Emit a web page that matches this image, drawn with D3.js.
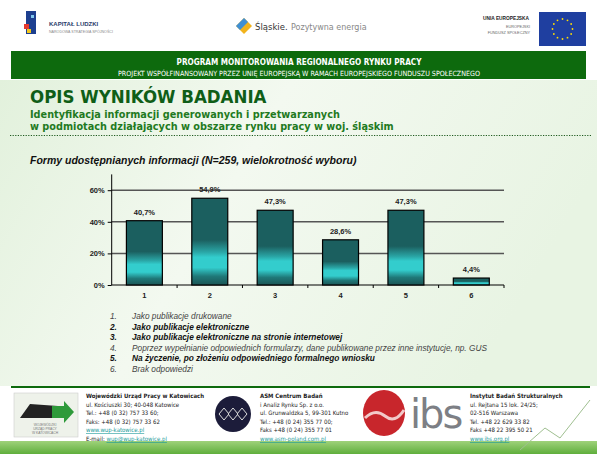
<!DOCTYPE html>
<html>
<head>
<meta charset="utf-8">
<script src="https://cdn.jsdelivr.net/npm/d3@7"></script>
<style>
  body { margin: 0; background: #fff; }
  svg { display: block; }
</style>
</head>
<body>
<div id="slide"></div>
<script>
// --- Data ---
const categories = ["1", "2", "3", "4", "5", "6"];
const values = [40.7, 54.9, 47.3, 28.6, 47.3, 4.4];
const valueLabels = ["40,7%", "54,9%", "47,3%", "28,6%", "47,3%", "4,4%"];
const yTicks = [0, 20, 40, 60];
const legendItems = [
    { n: "1.", text: "Jako publikacje drukowane", bold: false },
    { n: "2.", text: "Jako publikacje elektroniczne", bold: true },
    { n: "3.", text: "Jako publikacje elektroniczne na stronie internetowej", bold: true },
    { n: "4.", text: "Poprzez wypełnianie odpowiednich formularzy, dane publikowane przez inne instytucje, np. GUS", bold: false },
    { n: "5.", text: "Na życzenie, po złożeniu odpowiedniego formalnego wniosku", bold: true },
    { n: "6.", text: "Brak odpowiedzi", bold: false }
];
const footerWup = ["Wojewódzki Urząd Pracy w Katowicach", "ul. Kościuszki 30; 40-048 Katowice",
    "Tel.: +48 (0 32) 757 33 60;", "Faks: +48 (0 32) 757 33 62", "www.wup-katowice.pl", "E-mail: wup@wup-katowice.pl"];
const footerAsm = ["ASM Centrum Badań", "i Analiz Rynku Sp. z o.o.", "ul. Grunwaldzka 5, 99-301 Kutno",
    "Tel.: +48 (0 24) 355 77 00;", "Faks +48 (0 24) 355 77 01", "www.asm-poland.com.pl"];
const footerIbs = ["Instytut Badań Strukturalnych", "ul. Rejtana 15 lok. 24/25;", "02-516 Warszawa",
    "Tel. +48 22 629 33 82", "Faks +48 22 395 50 21", "www.ibs.org.pl"];

const W = 597, H = 454;
const svg = d3.select("#slide").append("svg").attr("width", W).attr("height", H);
const defs = svg.append("defs");

// background gradients
const bg = defs.append("linearGradient").attr("id", "bg").attr("x1", 0).attr("y1", 0).attr("x2", 1).attr("y2", 0.3);
bg.append("stop").attr("offset", "0%").attr("stop-color", "#e2f1dc");
bg.append("stop").attr("offset", "45%").attr("stop-color", "#f3f9f0");
bg.append("stop").attr("offset", "100%").attr("stop-color", "#e8f4e3");

const barGrad = defs.append("linearGradient").attr("id", "barGrad").attr("x1", 0).attr("y1", 0).attr("x2", 0).attr("y2", 1);
[["0%", "#1b5f5f"], ["48%", "#1b5f5f"], ["62%", "#2aa6a6"], ["68%", "#33cdcd"], ["80%", "#33cdcd"], ["90%", "#1f7878"], ["100%", "#1b5555"]]
    .forEach(s => barGrad.append("stop").attr("offset", s[0]).attr("stop-color", s[1]));

const footGrad = defs.append("linearGradient").attr("id", "footGrad").attr("x1", 0).attr("y1", 0).attr("x2", 0).attr("y2", 1);
footGrad.append("stop").attr("offset", "0%").attr("stop-color", "#9fd27a");
footGrad.append("stop").attr("offset", "100%").attr("stop-color", "#5fae3c");

svg.append("rect").attr("x", 0).attr("y", 0).attr("width", W).attr("height", H).attr("fill", "#fff");
svg.append("rect").attr("x", 0).attr("y", 80).attr("width", W).attr("height", 306).attr("fill", "url(#bg)");

// --- Header logos ---
const logos = svg.append("g");
logos.append("rect").attr("x", 26).attr("y", 11).attr("width", 10).attr("height", 23).attr("fill", "#1d3f8f");
logos.append("rect").attr("x", 24).attr("y", 24).attr("width", 5).attr("height", 5).attr("fill", "#e53a2f");
logos.append("rect").attr("x", 27).attr("y", 29).attr("width", 4).attr("height", 4).attr("fill", "#f4c81c");
logos.append("rect").attr("x", 31).attr("y", 15).attr("width", 3).attr("height", 3).attr("fill", "#7fc8ee");
logos.append("text").attr("x", 49).attr("y", 26).attr("font-family", "Liberation Sans, Arial").attr("font-size", 6)
    .attr("font-weight", "bold").attr("fill", "#2a3a6a").text("KAPITAŁ LUDZKI");
logos.append("text").attr("x", 49).attr("y", 33).attr("font-family", "Liberation Sans, Arial").attr("font-size", 3.6)
    .attr("fill", "#888").text("NARODOWA STRATEGIA SPÓJNOŚCI");

logos.append("path").attr("d", "M236,26 L244,18 L252,26 L244,34 Z").attr("fill", "#f2b31c");
logos.append("path").attr("d", "M236,26 L244,18 L248,22 L240,30 Z").attr("fill", "#3f8fd4");
logos.append("text").attr("x", 255).attr("y", 30).attr("font-family", "DejaVu Sans, Arial").attr("font-size", 8.5)
    .attr("fill", "#333").text("Śląskie.");
logos.append("text").attr("x", 291).attr("y", 30).attr("font-family", "DejaVu Sans, Arial").attr("font-size", 8)
    .attr("fill", "#888").text("Pozytywna energia");

logos.append("text").attr("x", 483).attr("y", 20).attr("font-family", "Liberation Sans, Arial").attr("font-size", 4.8)
    .attr("font-weight", "bold").attr("fill", "#222").text("UNIA EUROPEJSKA");
logos.append("text").attr("x", 530).attr("y", 28).attr("text-anchor", "end").attr("font-family", "Liberation Sans, Arial")
    .attr("font-size", 3.8).attr("fill", "#666").text("EUROPEJSKI");
logos.append("text").attr("x", 530).attr("y", 34).attr("text-anchor", "end").attr("font-family", "Liberation Sans, Arial")
    .attr("font-size", 3.8).attr("fill", "#666").text("FUNDUSZ SPOŁECZNY");
logos.append("rect").attr("x", 539).attr("y", 12).attr("width", 47).attr("height", 34).attr("fill", "#1f3fa0");
d3.range(12).forEach(i => {
    const a = i / 12 * Math.PI * 2;
    logos.append("circle").attr("cx", 562.5 + Math.cos(a) * 10).attr("cy", 29 + Math.sin(a) * 10).attr("r", 0.9).attr("fill", "#ffdd00");
});

// --- Green title band ---
svg.append("rect").attr("x", 11).attr("y", 51).attr("width", 575).attr("height", 28).attr("fill", "#0d6a0d");
svg.append("text").attr("x", 299).attr("y", 65).attr("text-anchor", "middle").attr("font-family", "DejaVu Sans Condensed, DejaVu Sans")
    .attr("font-size", 8.1).attr("font-weight", "bold").attr("fill", "#fff").text("PROGRAM MONITOROWANIA REGIONALNEGO RYNKU PRACY");
svg.append("text").attr("x", 299).attr("y", 75.5).attr("text-anchor", "middle").attr("font-family", "DejaVu Sans Condensed, DejaVu Sans")
    .attr("font-size", 7.1).attr("fill", "#fff").text("PROJEKT WSPÓŁFINANSOWANY PRZEZ UNIĘ EUROPEJSKĄ W RAMACH EUROPEJSKIEGO FUNDUSZU SPOŁECZNEGO");

svg.append("text").attr("x", 30).attr("y", 103).attr("font-family", "DejaVu Sans Condensed, DejaVu Sans")
    .attr("font-size", 18.5).attr("font-weight", "bold").attr("fill", "#0f5e17").text("OPIS WYNIKÓW BADANIA");
svg.append("text").attr("x", 30).attr("y", 118).attr("font-family", "DejaVu Sans Condensed, DejaVu Sans")
    .attr("font-size", 10.8).attr("font-weight", "bold").attr("fill", "#1f7a22").text("Identyfikacja informacji generowanych i przetwarzanych");
svg.append("text").attr("x", 30).attr("y", 130).attr("font-family", "DejaVu Sans Condensed, DejaVu Sans")
    .attr("font-size", 10.8).attr("font-weight", "bold").attr("fill", "#1f7a22").text("w podmiotach działających w obszarze rynku pracy w woj. śląskim");
svg.append("line").attr("x1", 10).attr("x2", 591).attr("y1", 135.5).attr("y2", 135.5)
    .attr("stroke", "#1f5a1f").attr("stroke-width", 1.2).attr("stroke-dasharray", "1.2,1.4");

// --- Chart ---
svg.append("text").attr("x", 30).attr("y", 164).attr("font-family", "Liberation Sans, Arial")
    .attr("font-size", 10.5).attr("font-weight", "bold").attr("font-style", "italic").attr("fill", "#111")
    .text("Formy udostępnianych informacji (N=259, wielokrotność wyboru)");

const x0 = 111.7, x1 = 504, yBase = 285, yTop = 174.4;
const xScale = d3.scaleBand().domain(categories).range([x0, x1]).paddingInner(0.45).paddingOuter(0.225);
const xTick = d3.scaleBand().domain(categories).range([x0, x1]);
const yScale = d3.scaleLinear().domain([0, 70]).range([yBase, yTop]);

const chart = svg.append("g");
// gridlines
chart.selectAll(".grid").data(yTicks.filter(t => t > 0)).join("line")
    .attr("x1", x0).attr("x2", x1).attr("y1", d => yScale(d)).attr("y2", d => yScale(d))
    .attr("stroke", "#555").attr("stroke-width", 1.5);

const yAxis = chart.append("g").attr("transform", `translate(${x0},0)`)
    .call(d3.axisLeft(yScale).tickValues(yTicks).tickFormat(d => d + "%").tickSize(4).tickPadding(3));
yAxis.select(".domain").attr("d", `M0,${yTop}V${yBase}`).attr("stroke", "#000");
yAxis.selectAll("text").attr("font-family", "Liberation Sans, Arial").attr("font-size", 7.5).attr("font-weight", "bold").attr("fill", "#222");

const xAxis = chart.append("g").attr("transform", `translate(0,${yBase})`)
    .call(d3.axisBottom(xTick).tickSize(0).tickPadding(8));
xAxis.select(".domain").attr("d", `M${x0},0H${x1}`).attr("stroke", "#000");
xAxis.selectAll("text").attr("font-family", "Liberation Sans, Arial").attr("font-size", 7.5).attr("font-weight", "bold").attr("fill", "#222");
// separators between categories
chart.selectAll(".sep").data(categories).join("line")
    .attr("x1", d => xTick(d) + xTick.bandwidth()).attr("x2", d => xTick(d) + xTick.bandwidth())
    .attr("y1", yBase).attr("y2", yBase + 3).attr("stroke", "#000");

chart.selectAll(".bar").data(values).join("rect")
    .attr("x", (d, i) => xScale(categories[i])).attr("width", xScale.bandwidth())
    .attr("y", d => yScale(d)).attr("height", d => yBase - yScale(d))
    .attr("fill", "url(#barGrad)").attr("stroke", "#000").attr("stroke-width", 1.2);

chart.selectAll(".vlab").data(values).join("text")
    .attr("x", (d, i) => xScale(categories[i]) + xScale.bandwidth() / 2).attr("y", d => yScale(d) - 6)
    .attr("text-anchor", "middle").attr("font-family", "Liberation Sans, Arial").attr("font-size", 7.5)
    .attr("font-weight", "bold").attr("fill", "#222").text((d, i) => valueLabels[i]);

// --- Legend ---
const leg = svg.append("g").attr("font-family", "Liberation Sans, Arial").attr("font-size", 8.3).attr("font-style", "italic");
legendItems.forEach((it, i) => {
    const y = 319 + i * 10.6;
    const col = it.bold ? "#111" : "#444";
    leg.append("text").attr("x", 110).attr("y", y).attr("fill", col).attr("font-weight", it.bold ? "bold" : "normal").text(it.n);
    leg.append("text").attr("x", 132).attr("y", y).attr("fill", col).attr("font-weight", it.bold ? "bold" : "normal").text(it.text);
});

// --- Footer ---
svg.append("rect").attr("x", 0).attr("y", 386).attr("width", W).attr("height", 56).attr("fill", "#fff");
svg.append("line").attr("x1", 11).attr("x2", 590).attr("y1", 387).attr("y2", 387).attr("stroke", "#0d6a0d").attr("stroke-width", 1.8);
svg.append("rect").attr("x", 0).attr("y", 441).attr("width", W).attr("height", 13).attr("fill", "url(#footGrad)");

// WUP logo
svg.append("rect").attr("x", 14).attr("y", 393).attr("width", 64).attr("height", 44).attr("fill", "#eef2ea").attr("stroke", "#ccc").attr("stroke-width", 0.6);
svg.append("path").attr("d", "M20,418 L30,404 L58,406 L58,418 Z").attr("fill", "#222");
svg.append("path").attr("d", "M52,406 L64,406 L64,401 L74,412 L64,423 L64,418 L52,418 Z").attr("fill", "#2e9a3a");
["WOJEWÓDZKI", "URZĄD PRACY", "W KATOWICACH"].forEach((t, i) =>
    svg.append("text").attr("x", 45).attr("y", 426 + i * 4).attr("text-anchor", "middle").attr("font-family", "Liberation Sans, Arial")
        .attr("font-size", 3.3).attr("fill", "#777").text(t));

// ASM logo
svg.append("circle").attr("cx", 233).attr("cy", 414).attr("r", 18).attr("fill", "#1c1c3a");
[-9, 0, 9].forEach(dx => svg.append("path")
    .attr("d", `M${233 + dx - 5},414 L${233 + dx},408 L${233 + dx + 5},414 L${233 + dx},420 Z`)
    .attr("fill", "none").attr("stroke", "#ddd").attr("stroke-width", 1));

// IBS logo
svg.append("ellipse").attr("cx", 384).attr("cy", 413).attr("rx", 21).attr("ry", 23).attr("fill", "#c8262c");
svg.append("path").attr("d", "M365,418 Q375,408 385,416 Q395,424 404,410").attr("fill", "none").attr("stroke", "#f2c9c9").attr("stroke-width", 3);
svg.append("text").attr("x", 410).attr("y", 428).attr("font-family", "DejaVu Sans, Arial").attr("font-size", 40)
    .attr("fill", "#7d7f85").attr("letter-spacing", -2).text("ibs");
svg.append("path").attr("d", "M520,450 L545,428 L560,438 L590,400").attr("fill", "none").attr("stroke", "#9fbf90").attr("stroke-width", 1);

function footerBlock(lines, x, urlIdx) {
    const g = svg.append("g").attr("font-family", "DejaVu Sans Condensed, DejaVu Sans").attr("font-size", 6);
    lines.forEach((t, i) => {
        const isUrl = urlIdx.includes(i);
        const tx = g.append("text").attr("x", x).attr("y", 398 + i * 8.6)
            .attr("font-weight", i === 0 ? "bold" : "normal").attr("fill", isUrl ? "#1a9a9a" : "#222");
        if (t.startsWith("E-mail: ")) {
            tx.attr("fill", "#222").text("E-mail: ");
            tx.append("tspan").attr("fill", "#1a9a9a").attr("text-decoration", "underline").text(t.slice(8));
        } else {
            tx.text(t);
            if (isUrl) tx.attr("text-decoration", "underline");
        }
    });
}
footerBlock(footerWup, 86, [4, 5]);
footerBlock(footerAsm, 260, [5]);
footerBlock(footerIbs, 470, [5]);
</script>
</body>
</html>
